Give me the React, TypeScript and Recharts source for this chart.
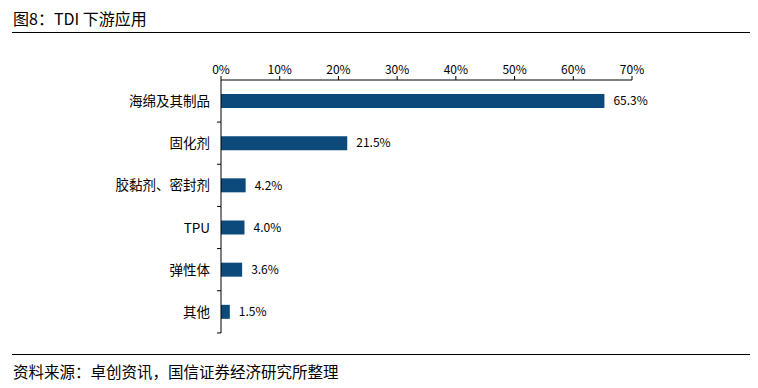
import React from 'react';
import { BarChart, Bar, XAxis, YAxis, LabelList } from 'recharts';

const categories = ['海绵及其制品', '固化剂', '胶黏剂、密封剂', 'TPU', '弹性体', '其他'];
const shares = [65.3, 21.5, 4.2, 4.0, 3.6, 1.5];
const xTicks = [0, 10, 20, 30, 40, 50, 60, 70];

const data = categories.map((name, i) => ({ name, value: shares[i] }));

const FONT = '"Noto Sans CJK SC", "Noto Sans", sans-serif';

const YTick = (props: any) => {
  const { x, y, payload } = props;
  return (
    <g>
      <text x={x - 11} y={y} dy={5} textAnchor="end" fontSize={13.5} fill="#000" fontFamily={FONT}>
        {payload.value}
      </text>
      <line x1={x - 4} x2={x} y1={y + 21} y2={y + 21} stroke="#000" strokeWidth={1} />
    </g>
  );
};

export default function App() {
  return (
    <div style={{ position: 'fixed', left: 0, top: 0, width: 758, height: 388, background: '#fff', fontFamily: FONT }}>
      <div style={{ position: 'absolute', left: 13, top: 6, fontSize: 16, color: '#000', whiteSpace: 'nowrap' }}>
        图8：TDI 下游应用
      </div>
      <div style={{ position: 'absolute', left: 12, top: 32, width: 738, height: 1, background: '#000' }} />
      <div style={{ position: 'absolute', left: 0, top: 0 }}>
        <BarChart
          width={758}
          height={388}
          data={data}
          layout="vertical"
          margin={{ top: 50, right: 126, bottom: 55, left: 101 }}
          barSize={14}
        >
          <XAxis
            type="number"
            orientation="top"
            domain={[0, 70]}
            ticks={xTicks}
            tickFormatter={(v: number) => `${v}%`}
            height={30}
            axisLine={{ stroke: '#000' }}
            tickLine={{ stroke: '#000' }}
            tickSize={4}
            tick={{ fontSize: 12, fill: '#000', fontFamily: FONT }}
            interval={0}
          />
          <YAxis
            type="category"
            dataKey="name"
            width={120}
            axisLine={{ stroke: '#000' }}
            tickLine={false}
            tickSize={0}
            tickMargin={0}
            tick={<YTick />}
            interval={0}
          />
          <Bar dataKey="value" fill="#0b4a7b" isAnimationActive={false}>
            <LabelList
              dataKey="value"
              position="right"
              offset={9}
              formatter={(v: any) => `${Number(v).toFixed(1)}%`}
              style={{ fontSize: 12, fill: '#000', fontFamily: FONT }}
            />
          </Bar>
        </BarChart>
      </div>
      <div style={{ position: 'absolute', left: 12, top: 354, width: 738, height: 1, background: '#000' }} />
      <div style={{ position: 'absolute', left: 13, top: 360, fontSize: 15.5, color: '#000', whiteSpace: 'nowrap' }}>
        资料来源：卓创资讯，国信证券经济研究所整理
      </div>
    </div>
  );
}
